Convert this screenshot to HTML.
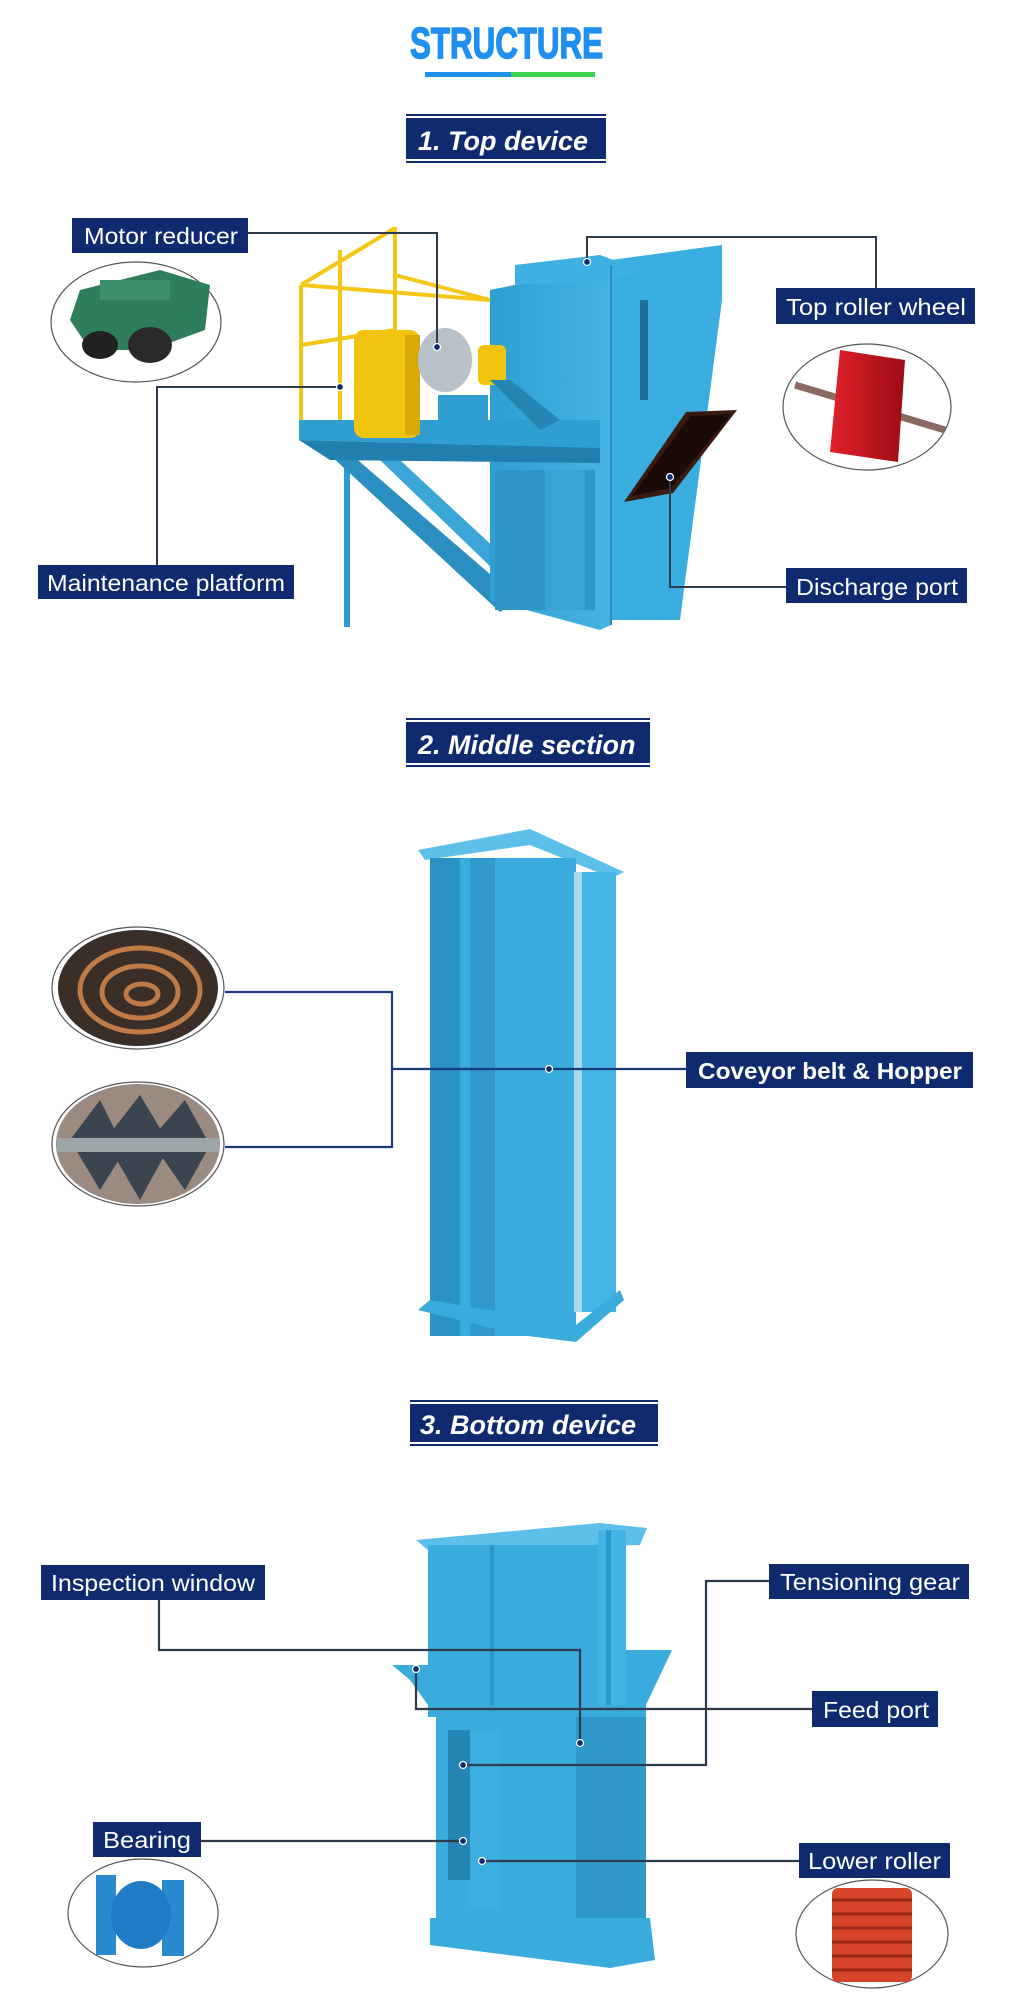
<!DOCTYPE html>
<html><head><meta charset="utf-8"><style>
html,body{margin:0;padding:0;background:#fff;}
svg{display:block;}
.lbl{font-family:"Liberation Sans",Arial,sans-serif;font-size:23px;fill:#fff;}
.ttl{font-family:"Liberation Sans",Arial,sans-serif;font-size:27px;font-weight:bold;font-style:italic;fill:#fff;}
</style></head><body>
<svg width="1012" height="1999" viewBox="0 0 1012 1999" xmlns="http://www.w3.org/2000/svg">
<defs>
<linearGradient id="bl" x1="0" x2="1"><stop offset="0" stop-color="#2f9fd2"/><stop offset="1" stop-color="#45b3e3"/></linearGradient>
<linearGradient id="red" x1="0" x2="1"><stop offset="0" stop-color="#e0212a"/><stop offset="1" stop-color="#9e0c14"/></linearGradient>
</defs>
<rect width="1012" height="1999" fill="#fff"/>

<text x="410" y="58" textLength="193" lengthAdjust="spacingAndGlyphs" font-family="Liberation Sans, sans-serif" font-weight="bold" font-size="44" fill="#1f8ff0" stroke="#1f8ff0" stroke-width="1.5">STRUCTURE</text>
<rect x="425" y="72" width="86" height="5" fill="#1f8fe8"/>
<rect x="511" y="72" width="84" height="5" fill="#3fd24c"/>

<g>
<rect x="406" y="114" width="200" height="2" fill="#0f2a6e"/>
<rect x="406" y="118" width="200" height="41" fill="#0f2a6e"/>
<rect x="406" y="161" width="200" height="2" fill="#0f2a6e"/>
<text class="ttl" x="418" y="150">1. Top device</text>
</g>
<g>
<rect x="406" y="718" width="244" height="2" fill="#0f2a6e"/>
<rect x="406" y="722" width="244" height="41" fill="#0f2a6e"/>
<rect x="406" y="765" width="244" height="2" fill="#0f2a6e"/>
<text class="ttl" x="418" y="754">2. Middle section</text>
</g>
<g>
<rect x="410" y="1400" width="248" height="2" fill="#0f2a6e"/>
<rect x="410" y="1404" width="248" height="38" fill="#0f2a6e"/>
<rect x="410" y="1444" width="248" height="2" fill="#0f2a6e"/>
<text class="ttl" x="420" y="1434">3. Bottom device</text>
</g>

<!-- ===== TOP MACHINE ===== -->
<g>
<rect x="344" y="455" width="6" height="172" fill="#2c9ad0"/>
<polygon points="330,455 352,455 520,600 500,612" fill="#2a8fc0"/>
<polygon points="380,460 400,460 540,590 525,600" fill="#3aa6d8"/>
<polygon points="611,260 722,245 722,300 680,620 611,620" fill="#3aaee0"/>
<polygon points="490,290 611,265 611,625 600,630 490,600" fill="url(#bl)"/>
<polygon points="515,265 600,255 640,270 611,280 515,285" fill="#3fb0e2"/>
<rect x="495" y="470" width="100" height="140" fill="#2e95c8"/>
<rect x="545" y="470" width="40" height="140" fill="#3aa3d6"/>
<line x1="611" y1="265" x2="611" y2="625" stroke="#2a8cbc" stroke-width="2"/>
<rect x="640" y="300" width="8" height="100" fill="#1f6e98"/>
<polygon points="686,412 737,410 673,493 624,502" fill="#3a1a10"/>
<polygon points="690,416 731,414 671,488 632,496" fill="#1a0a08"/>
<polygon points="299,420 600,420 600,448 299,440" fill="#2f9fd2"/>
<polygon points="299,440 600,448 600,463 330,460" fill="#217fb0"/>
<g stroke="#f3c714" stroke-width="4" fill="none">
<line x1="395" y1="227" x2="395" y2="420"/>
<line x1="340" y1="250" x2="340" y2="420"/>
<line x1="301" y1="285" x2="301" y2="420"/>
<polyline points="301,285 395,228"/>
<line x1="301" y1="285" x2="490" y2="300"/>
<line x1="301" y1="345" x2="395" y2="330"/>
<line x1="395" y1="275" x2="490" y2="300"/>
</g>
<rect x="354" y="330" width="66" height="108" rx="10" fill="#f1c40f"/>
<rect x="405" y="335" width="15" height="100" fill="#d9a90a"/>
<ellipse cx="445" cy="360" rx="27" ry="32" fill="#b8c0c8"/>
<rect x="478" y="345" width="28" height="40" rx="6" fill="#f1c40f"/>
<rect x="438" y="395" width="50" height="30" fill="#2f9fd2"/>
<polygon points="490,380 510,380 560,420 540,430" fill="#2585b5"/>
</g>

<g>
<ellipse cx="136" cy="322" rx="85" ry="60" fill="#fff" stroke="#555" stroke-width="1.2"/>
<polygon points="80,290 160,270 210,285 205,330 150,350 90,350 70,320" fill="#2e7d5b"/>
<rect x="100" y="280" width="70" height="20" fill="#3b8f6a"/>
<ellipse cx="100" cy="345" rx="18" ry="14" fill="#222"/>
<ellipse cx="150" cy="345" rx="22" ry="18" fill="#2a2a2a"/>
</g>
<g>
<ellipse cx="867" cy="407" rx="84" ry="63" fill="#fff" stroke="#555" stroke-width="1.2"/>
<line x1="795" y1="385" x2="945" y2="430" stroke="#8a6a60" stroke-width="7"/>
<polygon points="840,350 905,360 898,462 830,452" fill="url(#red)"/>
</g>

<g stroke="#2d3a4a" stroke-width="2" fill="none">
<polyline points="248,233 437,233 437,347"/>
<polyline points="587,262 587,237 876,237 876,288"/>
<polyline points="157,565 157,387 340,387"/>
<polyline points="670,477 670,587 786,587"/>
</g>
<g fill="#0f2a6e" stroke="#fff" stroke-width="1.3">
<circle cx="437" cy="347" r="3.5"/><circle cx="587" cy="262" r="3.5"/>
<circle cx="340" cy="387" r="3.5"/><circle cx="670" cy="477" r="3.5"/>
</g>

<rect x="72" y="218" width="176" height="35" fill="#0f2a6e"/>
<text class="lbl" x="84" y="244" textLength="154" lengthAdjust="spacingAndGlyphs">Motor reducer</text>
<rect x="776" y="288" width="199" height="36" fill="#0f2a6e"/>
<text class="lbl" x="786" y="315" textLength="180" lengthAdjust="spacingAndGlyphs">Top roller wheel</text>
<rect x="38" y="565" width="256" height="34" fill="#0f2a6e"/>
<text class="lbl" x="47" y="591" textLength="238" lengthAdjust="spacingAndGlyphs">Maintenance platform</text>
<rect x="786" y="568" width="181" height="35" fill="#0f2a6e"/>
<text class="lbl" x="796" y="595" textLength="162" lengthAdjust="spacingAndGlyphs">Discharge port</text>

<!-- ===== MIDDLE TOWER ===== -->
<g>
<polygon points="418,850 530,829 624,872 612,878 530,845 425,860" fill="#5cc0ea"/>
<rect x="430" y="858" width="146" height="478" fill="#3aabdd"/>
<rect x="430" y="858" width="30" height="478" fill="#2b92c4"/>
<rect x="470" y="858" width="25" height="478" fill="#3199cc"/>
<rect x="576" y="872" width="40" height="440" fill="#45b5e6"/>
<rect x="574" y="872" width="8" height="440" fill="#a9d8ea"/>
<polygon points="418,1310 430,1300 576,1325 620,1290 624,1300 576,1342 520,1335" fill="#3aabdd"/>
</g>
<g>
<ellipse cx="138" cy="988" rx="86" ry="61" fill="#fff" stroke="#555" stroke-width="1.2"/>
<ellipse cx="138" cy="988" rx="80" ry="58" fill="#3a2e28"/>
<g stroke="#c07a45" stroke-width="5" fill="none">
<ellipse cx="140" cy="990" rx="60" ry="42"/><ellipse cx="140" cy="992" rx="38" ry="26"/><ellipse cx="142" cy="994" rx="16" ry="10"/>
</g>
</g>
<g>
<ellipse cx="138" cy="1144" rx="86" ry="62" fill="#fff" stroke="#555" stroke-width="1.2"/>
<ellipse cx="138" cy="1144" rx="82" ry="60" fill="#9a8a80"/>
<polygon points="70,1140 100,1100 125,1150 100,1190" fill="#3b4550"/>
<polygon points="105,1140 140,1095 170,1145 140,1200" fill="#3b4550"/>
<polygon points="150,1140 185,1100 210,1145 185,1190" fill="#3b4550"/>
<rect x="57" y="1138" width="162" height="14" fill="#9ea5a8"/>
</g>
<g stroke="#1a3a7a" stroke-width="2.2" fill="none">
<polyline points="225,992 392,992 392,1147 225,1147"/>
<line x1="392" y1="1069" x2="686" y2="1069"/>
</g>
<circle cx="549" cy="1069" r="3.5" fill="#0f2a6e" stroke="#fff" stroke-width="1.3"/>
<rect x="686" y="1052" width="287" height="36" fill="#0f2a6e"/>
<text class="lbl" x="698" y="1079" font-weight="bold" textLength="264" lengthAdjust="spacingAndGlyphs">Coveyor belt &amp; Hopper</text>

<!-- ===== BOTTOM TOWER ===== -->
<g>
<polygon points="416,1540 600,1523 647,1528 640,1545 428,1550" fill="#5cc0ea"/>
<rect x="428" y="1545" width="175" height="170" fill="#3aabdd"/>
<rect x="490" y="1545" width="4" height="170" fill="#2f98c9"/>
<rect x="598" y="1530" width="28" height="200" fill="#44b4e4"/>
<rect x="606" y="1530" width="5" height="200" fill="#2f98c9"/>
<polygon points="392,1665 428,1665 428,1705 410,1680" fill="#3aabdd"/>
<polygon points="626,1650 672,1650 646,1705 626,1705" fill="#3aabdd"/>
<rect x="428" y="1705" width="218" height="12" fill="#3aabdd"/>
<rect x="436" y="1717" width="140" height="205" fill="#3aabdd"/>
<rect x="448" y="1730" width="22" height="150" fill="#2585b5"/>
<rect x="470" y="1730" width="30" height="180" fill="#3daee0"/>
<rect x="576" y="1717" width="70" height="205" fill="#2f98c9"/>
<polygon points="430,1918 650,1918 655,1960 610,1968 430,1945" fill="#3aabdd"/>
</g>
<g>
<ellipse cx="143" cy="1913" rx="75" ry="54" fill="#fff" stroke="#555" stroke-width="1.2"/>
<rect x="96" y="1875" width="20" height="80" fill="#2a8ad0"/>
<rect x="162" y="1880" width="22" height="76" fill="#2a8ad0"/>
<ellipse cx="141" cy="1915" rx="30" ry="34" fill="#1e7cc6"/>
</g>
<g>
<ellipse cx="872" cy="1934" rx="76" ry="54" fill="#fff" stroke="#555" stroke-width="1.2"/>
<rect x="832" y="1888" width="80" height="94" rx="6" fill="#d8442a"/>
<g stroke="#9a2a18" stroke-width="3">
<line x1="832" y1="1900" x2="912" y2="1900"/><line x1="832" y1="1914" x2="912" y2="1914"/><line x1="832" y1="1928" x2="912" y2="1928"/><line x1="832" y1="1942" x2="912" y2="1942"/><line x1="832" y1="1956" x2="912" y2="1956"/><line x1="832" y1="1970" x2="912" y2="1970"/>
</g>
</g>
<g stroke="#2d3a4a" stroke-width="2.2" fill="none">
<polyline points="159,1600 159,1650 580,1650 580,1743"/>
<polyline points="769,1581 706,1581 706,1765 463,1765"/>
<polyline points="812,1709 416,1709 416,1669"/>
<line x1="201" y1="1841" x2="463" y2="1841"/>
<line x1="799" y1="1861" x2="482" y2="1861"/>
</g>
<g fill="#0f2a6e" stroke="#fff" stroke-width="1.3">
<circle cx="580" cy="1743" r="3.5"/><circle cx="463" cy="1765" r="3.5"/><circle cx="416" cy="1669" r="3.5"/>
<circle cx="463" cy="1841" r="3.5"/><circle cx="482" cy="1861" r="3.5"/>
</g>
<rect x="41" y="1565" width="224" height="35" fill="#0f2a6e"/>
<text class="lbl" x="51" y="1591" textLength="204" lengthAdjust="spacingAndGlyphs">Inspection window</text>
<rect x="769" y="1564" width="200" height="35" fill="#0f2a6e"/>
<text class="lbl" x="780" y="1590" textLength="180" lengthAdjust="spacingAndGlyphs">Tensioning gear</text>
<rect x="812" y="1691" width="126" height="36" fill="#0f2a6e"/>
<text class="lbl" x="823" y="1718" textLength="106" lengthAdjust="spacingAndGlyphs">Feed port</text>
<rect x="93" y="1822" width="108" height="35" fill="#0f2a6e"/>
<text class="lbl" x="103" y="1848" textLength="88" lengthAdjust="spacingAndGlyphs">Bearing</text>
<rect x="799" y="1843" width="151" height="35" fill="#0f2a6e"/>
<text class="lbl" x="808" y="1869" textLength="133" lengthAdjust="spacingAndGlyphs">Lower roller</text>
</svg>
</body></html>
